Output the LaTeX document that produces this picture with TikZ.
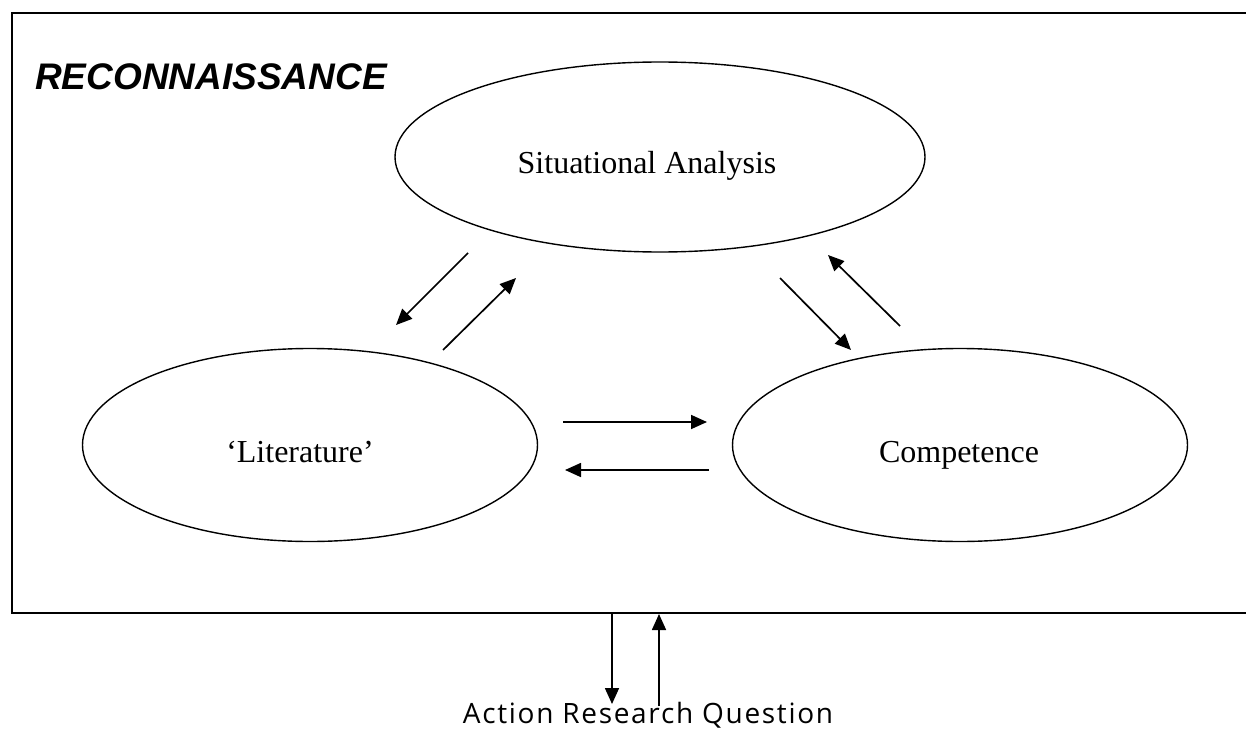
\documentclass[tikz,border=0pt]{standalone}
\usepackage{fontspec}
\setmainfont{Liberation Serif}
\newfontfamily\arialfont{Liberation Sans}
\newfontfamily\qfont[LetterSpace=6]{Open Sans}
\usetikzlibrary{shapes.geometric,arrows.meta}
\begin{document}
\begin{tikzpicture}[x=1pt,y=-1pt,
  oval/.style={draw,line width=1.4pt,ellipse,inner sep=0pt},
  lbl/.style={anchor=base,inner sep=0pt,font=\fontsize{32}{38}\selectfont},
  arr/.style={line width=1.7pt,-{Triangle[length=16pt,width=14pt]}},
  frame/.style={line width=1.7pt}]
\useasboundingbox (0,0) rectangle (1246,730);
\draw[frame] (1246,13) -- (12,13) -- (12,613) -- (1246,613);
\node[font=\arialfont\bfseries\itshape\fontsize{37}{42}\selectfont,anchor=base west,inner sep=0pt] (title) at (35,90) {RECONNAISSANCE};
\node[oval,minimum width=530pt,minimum height=190pt] (sa) at (660,157) {};
\node[oval,minimum width=455pt,minimum height=193pt] (lit) at (310,445) {};
\node[oval,minimum width=455pt,minimum height=193pt] (comp) at (960,445) {};
\node[lbl] (salbl) at (647,173) {Situational Analysis};
\node[lbl] (litlbl) at (300,462) {`Literature'};
\node[lbl] (complbl) at (959,462) {Competence};
\coordinate (a1s) at (468,253); \coordinate (a1e) at (396,325);
\coordinate (a2s) at (443,350); \coordinate (a2e) at (516,278);
\coordinate (a3s) at (780,278); \coordinate (a3e) at (851,350);
\coordinate (a4s) at (900,326); \coordinate (a4e) at (828,255);
\coordinate (a5s) at (563,422); \coordinate (a5e) at (707,422);
\coordinate (a6s) at (709,470); \coordinate (a6e) at (565,470);
\coordinate (b1s) at (612,613); \coordinate (b1e) at (612,704);
\coordinate (b2s) at (659,706); \coordinate (b2e) at (659,614);
\draw[arr] (a1s) -- (a1e);
\draw[arr] (a2s) -- (a2e);
\draw[arr] (a3s) -- (a3e);
\draw[arr] (a4s) -- (a4e);
\draw[arr] (a5s) -- (a5e);
\draw[arr] (a6s) -- (a6e);
\draw[arr] (b1s) -- (b1e);
\draw[arr] (b2s) -- (b2e);
\node[font=\qfont\fontsize{28}{34}\selectfont,anchor=base,inner sep=0pt] (q) at (648,723) {Action Research Question};
\end{tikzpicture}
\end{document}
